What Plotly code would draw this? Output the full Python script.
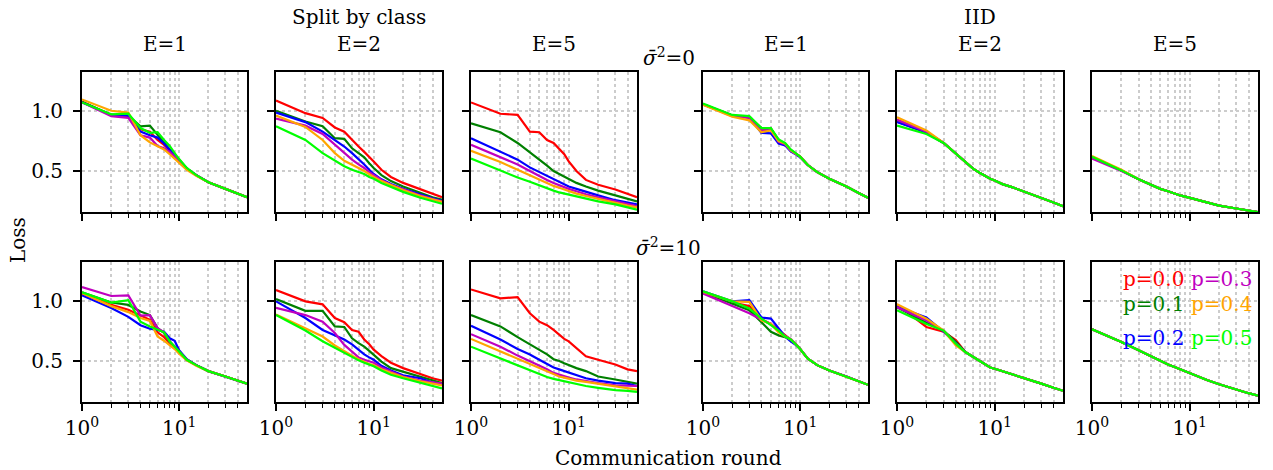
import math
import plotly.graph_objects as go

# Communication rounds at which the loss is plotted
ROUNDS = [1, 2, 3, 4, 5, 6, 7, 8, 9, 10, 12, 15, 20, 30, 40, 50]

P_LABELS = ["p=0.0", "p=0.1", "p=0.2", "p=0.3", "p=0.4", "p=0.5"]
COLORS = ["#ff0000", "#008000", "#0000ff", "#bf00bf", "#ffa500", "#00ff00"]
E_TITLES = ["E=1", "E=2", "E=5", "E=1", "E=2", "E=5"]

# ---- sigma^2 = 0, split by class (rows: p=0.0 ... p=0.5) ----
split_s0_e1 = [
    [1.08, 0.97, 0.965, 0.85, 0.83, 0.76, 0.72, 0.67, 0.63, 0.595, 0.52, 0.465, 0.405, 0.35, 0.31, 0.28],
    [1.08, 0.97, 0.965, 0.875, 0.88, 0.80, 0.74, 0.68, 0.63, 0.595, 0.52, 0.465, 0.405, 0.35, 0.31, 0.28],
    [1.075, 0.97, 0.965, 0.83, 0.80, 0.78, 0.73, 0.68, 0.63, 0.595, 0.52, 0.465, 0.405, 0.35, 0.31, 0.28],
    [1.075, 0.96, 0.945, 0.80, 0.78, 0.71, 0.69, 0.66, 0.62, 0.59, 0.52, 0.465, 0.405, 0.35, 0.31, 0.28],
    [1.10, 1.005, 0.99, 0.80, 0.74, 0.71, 0.68, 0.64, 0.60, 0.57, 0.51, 0.46, 0.405, 0.35, 0.31, 0.28],
    [1.075, 0.975, 0.98, 0.86, 0.82, 0.825, 0.76, 0.71, 0.65, 0.60, 0.525, 0.465, 0.405, 0.35, 0.31, 0.28],
]
split_s0_e2 = [
    [1.09, 0.985, 0.945, 0.865, 0.83, 0.76, 0.705, 0.66, 0.62, 0.58, 0.51, 0.45, 0.40, 0.345, 0.305, 0.28],
    [1.005, 0.915, 0.875, 0.775, 0.77, 0.69, 0.65, 0.615, 0.565, 0.525, 0.465, 0.415, 0.37, 0.315, 0.28, 0.26],
    [0.99, 0.91, 0.83, 0.76, 0.705, 0.65, 0.60, 0.555, 0.51, 0.475, 0.43, 0.39, 0.35, 0.30, 0.27, 0.25],
    [0.94, 0.88, 0.81, 0.72, 0.65, 0.595, 0.555, 0.525, 0.49, 0.465, 0.425, 0.385, 0.345, 0.295, 0.265, 0.245],
    [0.965, 0.87, 0.76, 0.65, 0.585, 0.555, 0.525, 0.50, 0.47, 0.45, 0.415, 0.38, 0.34, 0.29, 0.26, 0.24],
    [0.875, 0.76, 0.65, 0.585, 0.54, 0.51, 0.49, 0.475, 0.45, 0.435, 0.40, 0.365, 0.325, 0.275, 0.245, 0.225],
]
split_s0_e5 = [
    [1.075, 0.98, 0.97, 0.83, 0.825, 0.76, 0.735, 0.68, 0.64, 0.58, 0.50, 0.425, 0.385, 0.345, 0.305, 0.28],
    [0.90, 0.825, 0.735, 0.66, 0.595, 0.545, 0.50, 0.475, 0.455, 0.435, 0.40, 0.37, 0.335, 0.295, 0.265, 0.245],
    [0.775, 0.665, 0.595, 0.53, 0.49, 0.455, 0.43, 0.405, 0.385, 0.37, 0.35, 0.325, 0.295, 0.255, 0.235, 0.22],
    [0.72, 0.62, 0.555, 0.50, 0.455, 0.425, 0.40, 0.38, 0.365, 0.35, 0.33, 0.305, 0.28, 0.245, 0.22, 0.205],
    [0.67, 0.575, 0.51, 0.465, 0.425, 0.40, 0.375, 0.36, 0.345, 0.33, 0.31, 0.29, 0.265, 0.23, 0.21, 0.195],
    [0.605, 0.50, 0.445, 0.41, 0.38, 0.35, 0.335, 0.32, 0.31, 0.30, 0.285, 0.27, 0.245, 0.22, 0.195, 0.175],
]

# ---- sigma^2 = 0, IID ----
iid_s0_e1 = [
    [1.06, 0.965, 0.95, 0.855, 0.855, 0.755, 0.73, 0.675, 0.645, 0.62, 0.55, 0.49, 0.435, 0.37, 0.315, 0.275],
    [1.06, 0.965, 0.95, 0.86, 0.855, 0.76, 0.73, 0.675, 0.645, 0.62, 0.55, 0.49, 0.435, 0.37, 0.315, 0.275],
    [1.06, 0.965, 0.95, 0.82, 0.815, 0.73, 0.715, 0.665, 0.64, 0.615, 0.55, 0.49, 0.435, 0.37, 0.315, 0.275],
    [1.06, 0.96, 0.945, 0.84, 0.845, 0.745, 0.725, 0.67, 0.645, 0.62, 0.55, 0.49, 0.435, 0.37, 0.315, 0.275],
    [1.055, 0.955, 0.925, 0.825, 0.84, 0.75, 0.73, 0.675, 0.645, 0.62, 0.55, 0.49, 0.435, 0.37, 0.315, 0.275],
    [1.065, 0.97, 0.96, 0.86, 0.86, 0.765, 0.735, 0.68, 0.65, 0.62, 0.55, 0.49, 0.435, 0.37, 0.315, 0.275],
]
iid_s0_e2 = [
    [0.93, 0.825, 0.735, 0.645, 0.575, 0.52, 0.485, 0.455, 0.435, 0.42, 0.39, 0.365, 0.325, 0.275, 0.235, 0.205],
    [0.915, 0.82, 0.735, 0.645, 0.575, 0.52, 0.485, 0.455, 0.435, 0.42, 0.39, 0.365, 0.325, 0.275, 0.235, 0.205],
    [0.91, 0.825, 0.735, 0.645, 0.575, 0.52, 0.485, 0.455, 0.435, 0.42, 0.39, 0.365, 0.325, 0.275, 0.235, 0.205],
    [0.93, 0.83, 0.735, 0.645, 0.575, 0.52, 0.485, 0.455, 0.435, 0.42, 0.39, 0.365, 0.325, 0.275, 0.235, 0.205],
    [0.95, 0.84, 0.735, 0.645, 0.575, 0.52, 0.485, 0.455, 0.435, 0.42, 0.39, 0.365, 0.325, 0.275, 0.235, 0.205],
    [0.88, 0.81, 0.735, 0.645, 0.575, 0.52, 0.485, 0.455, 0.435, 0.42, 0.39, 0.365, 0.325, 0.275, 0.235, 0.205],
]
iid_s0_e5 = [
    [0.62, 0.505, 0.43, 0.385, 0.35, 0.33, 0.31, 0.295, 0.285, 0.275, 0.255, 0.235, 0.21, 0.185, 0.168, 0.155],
    [0.62, 0.505, 0.43, 0.385, 0.35, 0.33, 0.31, 0.295, 0.285, 0.275, 0.255, 0.235, 0.21, 0.185, 0.168, 0.155],
    [0.615, 0.505, 0.43, 0.385, 0.35, 0.33, 0.31, 0.295, 0.285, 0.275, 0.255, 0.235, 0.21, 0.185, 0.168, 0.155],
    [0.605, 0.50, 0.43, 0.385, 0.35, 0.33, 0.31, 0.295, 0.285, 0.275, 0.255, 0.235, 0.21, 0.185, 0.168, 0.155],
    [0.625, 0.51, 0.43, 0.385, 0.35, 0.33, 0.31, 0.295, 0.285, 0.275, 0.255, 0.235, 0.21, 0.185, 0.168, 0.155],
    [0.62, 0.505, 0.43, 0.385, 0.35, 0.33, 0.31, 0.295, 0.285, 0.275, 0.255, 0.235, 0.21, 0.185, 0.168, 0.155],
]

# ---- sigma^2 = 10, split by class ----
split_s10_e1 = [
    [1.065, 0.97, 0.93, 0.88, 0.845, 0.74, 0.70, 0.65, 0.62, 0.58, 0.51, 0.465, 0.415, 0.37, 0.335, 0.31],
    [1.075, 0.99, 0.97, 0.915, 0.885, 0.775, 0.735, 0.66, 0.62, 0.58, 0.51, 0.465, 0.415, 0.37, 0.335, 0.31],
    [1.05, 0.945, 0.87, 0.80, 0.77, 0.76, 0.745, 0.69, 0.67, 0.59, 0.515, 0.465, 0.415, 0.37, 0.335, 0.31],
    [1.12, 1.045, 1.05, 0.88, 0.885, 0.775, 0.74, 0.665, 0.62, 0.58, 0.51, 0.465, 0.415, 0.37, 0.335, 0.31],
    [1.07, 0.96, 0.91, 0.86, 0.835, 0.705, 0.67, 0.63, 0.60, 0.56, 0.505, 0.46, 0.415, 0.37, 0.335, 0.31],
    [1.075, 0.99, 1.01, 0.83, 0.79, 0.76, 0.74, 0.665, 0.62, 0.58, 0.51, 0.465, 0.415, 0.37, 0.335, 0.31],
]
split_s10_e2 = [
    [1.095, 1.00, 0.975, 0.86, 0.825, 0.76, 0.745, 0.68, 0.64, 0.595, 0.54, 0.485, 0.44, 0.39, 0.355, 0.335],
    [1.02, 0.92, 0.92, 0.79, 0.785, 0.69, 0.65, 0.62, 0.585, 0.555, 0.495, 0.44, 0.41, 0.365, 0.335, 0.315],
    [1.00, 0.86, 0.76, 0.715, 0.68, 0.64, 0.595, 0.555, 0.53, 0.51, 0.46, 0.42, 0.38, 0.355, 0.32, 0.30],
    [0.945, 0.885, 0.83, 0.735, 0.635, 0.575, 0.53, 0.51, 0.495, 0.485, 0.445, 0.41, 0.37, 0.335, 0.32, 0.31],
    [0.89, 0.77, 0.705, 0.63, 0.58, 0.545, 0.515, 0.49, 0.475, 0.465, 0.43, 0.40, 0.365, 0.33, 0.31, 0.295],
    [0.885, 0.755, 0.665, 0.61, 0.565, 0.535, 0.505, 0.485, 0.47, 0.455, 0.42, 0.385, 0.355, 0.315, 0.29, 0.27],
]
split_s10_e5 = [
    [1.10, 1.025, 1.035, 0.90, 0.83, 0.80, 0.76, 0.72, 0.685, 0.665, 0.61, 0.54, 0.51, 0.47, 0.43, 0.415],
    [0.885, 0.79, 0.70, 0.64, 0.595, 0.555, 0.515, 0.50, 0.48, 0.465, 0.44, 0.415, 0.37, 0.345, 0.325, 0.31],
    [0.795, 0.68, 0.60, 0.555, 0.51, 0.475, 0.445, 0.43, 0.415, 0.40, 0.38, 0.355, 0.335, 0.315, 0.31, 0.29],
    [0.725, 0.62, 0.545, 0.50, 0.465, 0.43, 0.40, 0.385, 0.37, 0.36, 0.345, 0.33, 0.315, 0.295, 0.295, 0.29],
    [0.685, 0.58, 0.52, 0.475, 0.44, 0.41, 0.39, 0.37, 0.36, 0.35, 0.335, 0.325, 0.31, 0.29, 0.275, 0.26],
    [0.62, 0.52, 0.465, 0.42, 0.39, 0.365, 0.35, 0.34, 0.33, 0.32, 0.305, 0.29, 0.275, 0.255, 0.25, 0.24],
]

# ---- sigma^2 = 10, IID ----
iid_s10_e1 = [
    [1.075, 0.99, 0.96, 0.85, 0.81, 0.76, 0.71, 0.68, 0.64, 0.60, 0.52, 0.465, 0.42, 0.37, 0.33, 0.30],
    [1.075, 0.98, 0.925, 0.825, 0.745, 0.715, 0.70, 0.675, 0.64, 0.60, 0.52, 0.465, 0.42, 0.37, 0.33, 0.30],
    [1.085, 1.00, 1.01, 0.865, 0.855, 0.77, 0.705, 0.665, 0.635, 0.60, 0.52, 0.465, 0.42, 0.37, 0.33, 0.30],
    [1.065, 0.965, 0.90, 0.845, 0.81, 0.75, 0.71, 0.685, 0.645, 0.60, 0.52, 0.465, 0.42, 0.37, 0.33, 0.30],
    [1.08, 1.00, 0.995, 0.84, 0.81, 0.74, 0.705, 0.68, 0.64, 0.60, 0.52, 0.465, 0.42, 0.37, 0.33, 0.30],
    [1.085, 1.00, 0.94, 0.855, 0.80, 0.755, 0.705, 0.68, 0.64, 0.60, 0.52, 0.465, 0.42, 0.37, 0.33, 0.30],
]
iid_s10_e2 = [
    [0.975, 0.785, 0.745, 0.675, 0.575, 0.535, 0.50, 0.465, 0.445, 0.435, 0.415, 0.39, 0.355, 0.31, 0.275, 0.25],
    [0.95, 0.82, 0.755, 0.66, 0.575, 0.535, 0.50, 0.465, 0.445, 0.435, 0.415, 0.39, 0.355, 0.31, 0.275, 0.25],
    [0.955, 0.865, 0.745, 0.65, 0.575, 0.535, 0.50, 0.465, 0.445, 0.435, 0.415, 0.39, 0.355, 0.31, 0.275, 0.25],
    [0.95, 0.84, 0.755, 0.645, 0.575, 0.535, 0.50, 0.465, 0.445, 0.435, 0.415, 0.39, 0.355, 0.31, 0.275, 0.25],
    [0.975, 0.855, 0.755, 0.63, 0.575, 0.535, 0.50, 0.465, 0.445, 0.435, 0.415, 0.39, 0.355, 0.31, 0.275, 0.25],
    [0.925, 0.81, 0.755, 0.645, 0.575, 0.535, 0.50, 0.465, 0.445, 0.435, 0.415, 0.39, 0.355, 0.31, 0.275, 0.25],
]
iid_s10_e5 = [
    [0.765, 0.66, 0.59, 0.54, 0.50, 0.47, 0.45, 0.43, 0.41, 0.395, 0.37, 0.34, 0.305, 0.26, 0.23, 0.21],
    [0.765, 0.66, 0.59, 0.54, 0.50, 0.47, 0.45, 0.43, 0.41, 0.395, 0.37, 0.34, 0.305, 0.26, 0.23, 0.21],
    [0.765, 0.66, 0.59, 0.54, 0.50, 0.47, 0.45, 0.43, 0.41, 0.395, 0.37, 0.34, 0.305, 0.26, 0.23, 0.21],
    [0.765, 0.66, 0.59, 0.54, 0.50, 0.47, 0.45, 0.43, 0.41, 0.395, 0.37, 0.34, 0.305, 0.26, 0.23, 0.21],
    [0.765, 0.66, 0.59, 0.54, 0.50, 0.47, 0.45, 0.43, 0.41, 0.395, 0.37, 0.34, 0.305, 0.26, 0.23, 0.21],
    [0.765, 0.66, 0.59, 0.54, 0.50, 0.47, 0.45, 0.43, 0.41, 0.395, 0.37, 0.34, 0.305, 0.26, 0.23, 0.21],
]

PANELS = [
    [split_s0_e1, split_s0_e2, split_s0_e5, iid_s0_e1, iid_s0_e2, iid_s0_e5],
    [split_s10_e1, split_s10_e2, split_s10_e5, iid_s10_e1, iid_s10_e2, iid_s10_e5],
]

W, H = 1273, 470
FONT = "DejaVu Serif"
FS = 20

# panel placement in pixels
COL_PX = [(82, 247), (276, 442), (471, 637), (703, 868), (897, 1063), (1092, 1258)]
ROW_PX = [(72, 212), (262, 402)]

fig = go.Figure()
layout = dict(
    width=W, height=H,
    margin=dict(l=0, r=0, t=0, b=0, autoexpand=False),
    paper_bgcolor="white", plot_bgcolor="white",
    showlegend=False,
    font=dict(family=FONT, size=FS, color="black"),
)

minor_x = [2, 3, 4, 5, 6, 7, 8, 9, 20, 30, 40]
grid_style = dict(gridcolor="#cccccc", griddash="dot", gridwidth=1.5)

for r in range(2):
    for c in range(6):
        k = r * 6 + c + 1
        xa = "x" if k == 1 else f"x{k}"
        ya = "y" if k == 1 else f"y{k}"
        for i, series in enumerate(PANELS[r][c]):
            fig.add_trace(go.Scatter(
                x=ROUNDS, y=series, mode="lines", name=P_LABELS[i],
                line=dict(color=COLORS[i], width=2.2),
                xaxis=xa, yaxis=ya, hoverinfo="skip",
            ))
        x0, x1 = COL_PX[c]
        y0, y1 = ROW_PX[r]
        layout[f"xaxis{k}" if k > 1 else "xaxis"] = dict(
            domain=[x0 / W, x1 / W], anchor=ya, automargin=False,
            type="log", range=[0, math.log10(50)],
            showline=True, mirror=True, linecolor="black", linewidth=1.8,
            ticks="outside", ticklen=7, tickwidth=1.5, tickcolor="black",
            tickvals=[1, 10],
            ticktext=["10<sup>0</sup>", "10<sup>1</sup>"],
            showticklabels=(r == 1),
            tickfont=dict(family=FONT, size=FS),
            showgrid=True, **grid_style,
            minor=dict(tickmode="array", tickvals=minor_x, ticks="outside",
                       ticklen=4, tickwidth=1.2, tickcolor="black",
                       showgrid=True, **grid_style),
            zeroline=False, fixedrange=True,
        )
        layout[f"yaxis{k}" if k > 1 else "yaxis"] = dict(
            domain=[1 - y1 / H, 1 - y0 / H], anchor=xa, automargin=False,
            range=[0.156, 1.33],
            showline=True, mirror=True, linecolor="black", linewidth=1.8,
            ticks="outside", ticklen=7, tickwidth=1.5, tickcolor="black",
            tickvals=[0.5, 1.0], ticktext=["0.5", "1.0"],
            showticklabels=(c == 0), ticklabelstandoff=6,
            tickfont=dict(family=FONT, size=FS),
            showgrid=True, **grid_style,
            zeroline=False, fixedrange=True,
        )

annotations = []


def add_text(text, x, y, size=FS, color="black", angle=0):
    annotations.append(dict(
        text=text, x=x / W, y=1 - y / H, xref="paper", yref="paper",
        showarrow=False, xanchor="center", yanchor="middle",
        font=dict(family=FONT, size=size, color=color), textangle=angle,
    ))


for c in range(6):
    x0, x1 = COL_PX[c]
    add_text(E_TITLES[c], (x0 + x1) / 2, 44)
add_text("Split by class", (COL_PX[1][0] + COL_PX[1][1]) / 2, 17)
add_text("IID", (COL_PX[4][0] + COL_PX[4][1]) / 2, 17)
add_text("<i>σ̄</i><sup>2</sup>=0", 669, 57)
add_text("<i>σ̄</i><sup>2</sup>=10", 669, 247)
add_text("Loss", 18, 240, angle=-90)
add_text("Communication round", 669, 458)

# colour-coded labels inside the last panel
legend_pos = [(1153, 279), (1153, 304), (1153, 338), (1221, 279), (1221, 304), (1221, 338)]
for i, lab in enumerate(P_LABELS):
    add_text(lab, legend_pos[i][0], legend_pos[i][1], color=COLORS[i])

layout["annotations"] = annotations
fig.update_layout(**layout)
fig.write_html("out.html")
